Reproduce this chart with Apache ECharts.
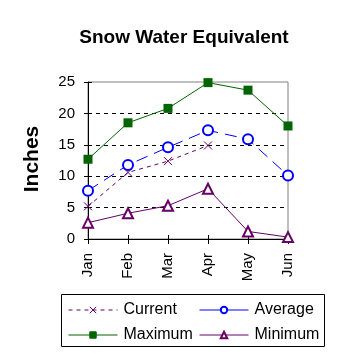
<!DOCTYPE html>
<html><head><meta charset="utf-8">
<script src="https://cdn.jsdelivr.net/npm/echarts@6/dist/echarts.min.js"></script>
<style>html,body{margin:0;padding:0;background:#fff}#c{width:358px;height:358px}</style>
</head><body><div id="c"></div>
<script>
const months = ['Jan','Feb','Mar','Apr','May','Jun'];
const currentVals = [5.2, 10.6, 12.4, 14.9, null, null];
const averageVals = [7.7, 11.8, 14.6, 17.3, 15.9, 10.1];
const maximumVals = [12.7, 18.5, 20.8, 24.9, 23.7, 18.0];
const minimumVals = [2.6, 4.1, 5.3, 8.0, 1.2, 0.3];
const yTicks = [0, 5, 10, 15, 20, 25];

const FONT = 'Liberation Sans, Arial, sans-serif';
const PURPLE = '#660066', BLUE = '#0000ff', GREEN = '#006400';
const chart = echarts.init(document.getElementById('c'), null, {renderer: 'canvas'});
const xPath = 'path://M0,0L10,10M10,0L0,10';
const legendCommon = {
  orient: 'vertical', top: 302, padding: 0, itemGap: 9, itemWidth: 49, itemHeight: 8,
  textStyle: {fontFamily: FONT, fontSize: 16, color: '#000', lineHeight: 16, padding: [0,0,0,1]},
  lineStyle: {width: 1},
  itemStyle: {borderWidth: 1}
};
chart.setOption({
  animation: false,
  backgroundColor: '#fff',
  title: {text: 'Snow Water Equivalent', left: 179, top: 23, textAlign: 'center',
    textStyle: {fontFamily: FONT, fontSize: 19, fontWeight: 'bold', color: '#000'}},
  grid: {left: 88, right: 70, top: 82, bottom: 119, show: true, borderColor: '#808080', borderWidth: 1},
  graphic: [
    {type: 'rect', shape: {x: 61.5, y: 294.5, width: 263, height: 52}, style: {fill: 'none', stroke: '#000', lineWidth: 1}, z: 10},
    {type: 'text', x: 32, y: 159, rotation: Math.PI/2, style: {text: 'Inches', fontFamily: FONT, fontSize: 21, fontWeight: 'bold', fill: '#000', align: 'center', verticalAlign: 'middle'}}
  ],
  xAxis: [{
    type: 'category', data: months, boundaryGap: false,
    axisLine: {lineStyle: {color: '#000', width: 1}},
    axisTick: {show: true, length: 5, alignWithLabel: true, lineStyle: {color: '#000'}},
    axisLabel: {rotate: 90, margin: 14, fontFamily: FONT, fontSize: 15, color: '#000'},
    splitLine: {show: false}
  }, {
    type: 'category', data: months, boundaryGap: false, position: 'bottom',
    axisLine: {show: false},
    axisTick: {show: true, inside: true, length: 4, lineStyle: {color: '#000'}},
    axisLabel: {show: false}, splitLine: {show: false}
  }],
  yAxis: [{
    type: 'value', min: yTicks[0], max: yTicks[yTicks.length-1], interval: 5,
    axisLine: {show: true, lineStyle: {color: '#000', width: 1}},
    axisTick: {show: true, length: 4, lineStyle: {color: '#000'}},
    axisLabel: {margin: 13, fontFamily: FONT, fontSize: 15, color: '#000'},
    splitLine: {show: true, showMinLine: false, showMaxLine: false, lineStyle: {color: '#000', type: [4, 4], width: 1}}
  }, {
    type: 'value', min: yTicks[0], max: yTicks[yTicks.length-1], interval: 5, position: 'left',
    axisLine: {show: false},
    axisTick: {show: true, inside: true, length: 4, lineStyle: {color: '#000'}},
    axisLabel: {show: false}, splitLine: {show: false}
  }],
  legend: [
    Object.assign({}, legendCommon, {left: 68, data: [{name: 'Current'}, {name: 'Maximum'}]}),
    Object.assign({}, legendCommon, {left: 199, data: [{name: 'Average', lineStyle: {type: 'solid', width: 1}}, {name: 'Minimum'}]})
  ],
  series: [
    {name: 'Current', type: 'line', data: currentVals, symbol: xPath, symbolSize: 8,
      lineStyle: {color: PURPLE, width: 1, type: [4, 4]},
      itemStyle: {color: PURPLE, borderColor: PURPLE, borderWidth: 1}, z: 3},
    {name: 'Average', type: 'line', data: averageVals, symbol: 'emptyCircle', symbolSize: 10,
      lineStyle: {color: BLUE, width: 1, type: [12, 7]},
      itemStyle: {color: BLUE, borderColor: BLUE, borderWidth: 1}, z: 3},
    {name: 'Maximum', type: 'line', data: maximumVals, symbol: 'rect', symbolSize: 9,
      lineStyle: {color: GREEN, width: 1},
      itemStyle: {color: GREEN, borderColor: GREEN, borderWidth: 0}, z: 3},
    {name: 'Minimum', type: 'line', data: minimumVals, symbol: 'emptyTriangle', symbolSize: 10,
      lineStyle: {color: PURPLE, width: 1},
      itemStyle: {color: PURPLE, borderColor: PURPLE, borderWidth: 1}, z: 3}
  ]
});
</script></body></html>
